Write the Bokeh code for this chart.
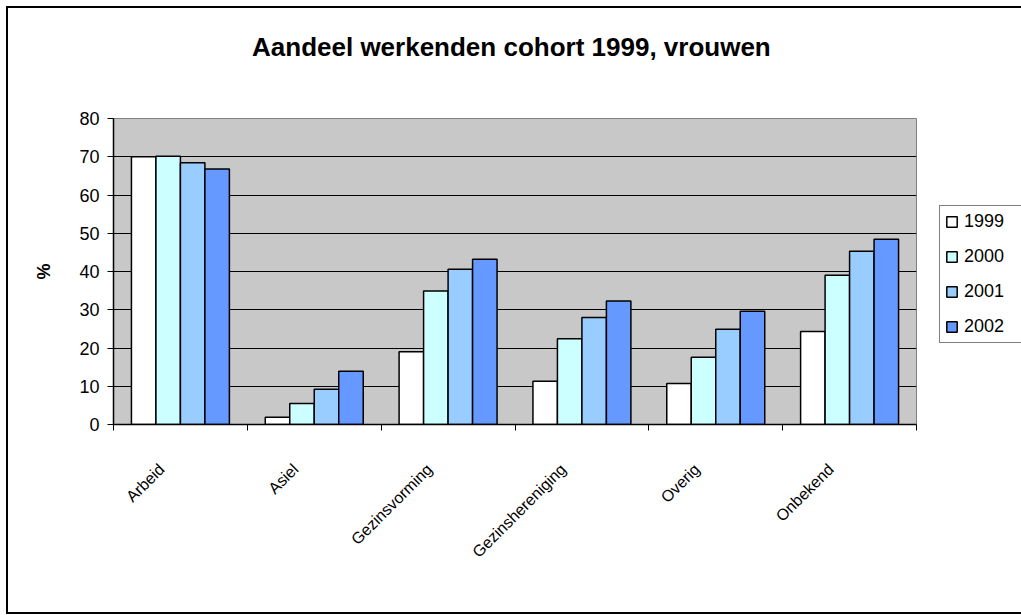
import math
from bokeh.plotting import figure
from bokeh.models import (Range1d, FixedTicker, CustomJSTickFormatter, LinearAxis,
                          Legend, LegendItem, ColumnDataSource)
from bokeh.transform import dodge
from bokeh.embed import file_html
from bokeh.resources import INLINE

categories = ["Arbeid", "Asiel", "Gezinsvorming", "Gezinshereniging", "Overig", "Onbekend"]
years = ["1999", "2000", "2001", "2002"]
v1999 = [70.0, 1.9, 19.0, 11.3, 10.7, 24.3]
v2000 = [70.1, 5.5, 34.9, 22.4, 17.6, 39.0]
v2001 = [68.4, 9.2, 40.6, 28.0, 24.9, 45.3]
v2002 = [66.8, 13.9, 43.2, 32.3, 29.6, 48.4]
colors = ["#FFFFFF", "#CCFFFF", "#99CCFF", "#6699FF"]
y_ticks = [0, 10, 20, 30, 40, 50, 60, 70, 80]
title_text = "Aandeel werkenden  cohort 1999, vrouwen"

FONT = "Liberation Sans"
n = len(categories)

# category slot centres on a unit-per-category axis
source = ColumnDataSource(dict(cat=categories, xc=[i + 0.5 for i in range(n)],
                               y1999=v1999, y2000=v2000, y2001=v2001, y2002=v2002))

p = figure(x_range=Range1d(0, n), y_range=Range1d(0, 80),
           frame_width=803, frame_height=306,
           min_border_left=105, min_border_right=105, min_border_top=110, min_border_bottom=188,
           output_backend="svg", toolbar_location=None,
           background_fill_color="#C8C8C8", border_fill_color="white")
p.styles = {"margin-left": "6px", "margin-top": "6px",
            "border-left": "2px solid black", "border-top": "2px solid black",
            "border-bottom": "2px solid black"}

p.outline_line_color = "#808080"
p.outline_line_width = 1

# chart title, drawn as the label of an otherwise empty axis above the plot area
title_axis = LinearAxis(ticker=FixedTicker(ticks=[]), axis_label=title_text)
title_axis.axis_line_color = None
title_axis.major_tick_line_color = None
title_axis.minor_tick_line_color = None
title_axis.major_tick_out = 0
title_axis.major_tick_in = 0
title_axis.minor_tick_out = 0
title_axis.major_label_standoff = 0
title_axis.axis_label_text_font = FONT
title_axis.axis_label_text_font_size = "26px"
title_axis.axis_label_text_font_style = "bold"
title_axis.axis_label_text_color = "black"
title_axis.axis_label_standoff = 57
p.add_layout(title_axis, "above")

# y axis
p.yaxis.ticker = FixedTicker(ticks=y_ticks)
p.yaxis.axis_label = "%"
p.yaxis.axis_label_text_font = FONT
p.yaxis.axis_label_text_font_size = "18px"
p.yaxis.axis_label_text_font_style = "bold"
p.yaxis.axis_label_text_color = "black"
p.yaxis.axis_label_standoff = 22
p.yaxis.major_label_text_font = FONT
p.yaxis.major_label_text_font_size = "18px"
p.yaxis.major_label_text_color = "black"
p.yaxis.major_tick_out = 6
p.yaxis.major_tick_in = 0
p.yaxis.minor_tick_line_color = None
p.yaxis.axis_line_color = "black"
p.yaxis.axis_line_width = 1.5
p.yaxis.major_tick_line_color = "black"
p.yaxis.major_label_standoff = 8

p.ygrid.ticker = FixedTicker(ticks=y_ticks)
p.ygrid.grid_line_color = "black"
p.ygrid.grid_line_width = 1
p.xgrid.visible = False

# x axis (ticks at category boundaries, labels near centres)
label_shift = -0.14
xaxis = p.below[0]
xaxis.ticker = FixedTicker(ticks=[i + 0.5 + label_shift for i in range(n)],
                           minor_ticks=list(range(n + 1)))
xaxis.formatter = CustomJSTickFormatter(
    args=dict(labels=categories),
    code="const i = Math.floor(tick); return (i >= 0 && i < labels.length) ? labels[i] : '';")
xaxis.major_tick_line_color = None
xaxis.major_tick_out = 6
xaxis.major_tick_in = 0
xaxis.minor_tick_line_color = "black"
xaxis.minor_tick_out = 6
xaxis.minor_tick_in = 0
xaxis.axis_line_color = "black"
xaxis.axis_line_width = 1.5
xaxis.major_label_orientation = math.pi / 4
xaxis.major_label_text_font = FONT
xaxis.major_label_text_font_size = "16px"
xaxis.major_label_text_color = "black"
xaxis.major_label_standoff = 36

# bars
bar_w = 0.183
offsets = [-1.5 * bar_w, -0.5 * bar_w, 0.5 * bar_w, 1.5 * bar_w]
items = []
for yr, off, col in zip(years, offsets, colors):
    r = p.vbar(x=dodge("xc", off), top="y" + yr, width=bar_w, source=source,
               fill_color=col, line_color="black", line_width=1.5)
    items.append(LegendItem(label=yr, renderers=[r]))

legend = Legend(items=items, location=(23, 81))
legend.border_line_color = "black"
legend.border_line_width = 1.5
legend.background_fill_color = "white"
legend.background_fill_alpha = 1
legend.padding = 5
legend.spacing = 14
legend.margin = 0
legend.label_height = 20
legend.glyph_height = 13
legend.glyph_width = 13
legend.label_standoff = 6
legend.label_width = 60
legend.label_text_font = FONT
legend.label_text_font_size = "18px"
legend.label_text_color = "black"
p.add_layout(legend, "right")

open("out.html", "w").write(file_html(p, INLINE))
